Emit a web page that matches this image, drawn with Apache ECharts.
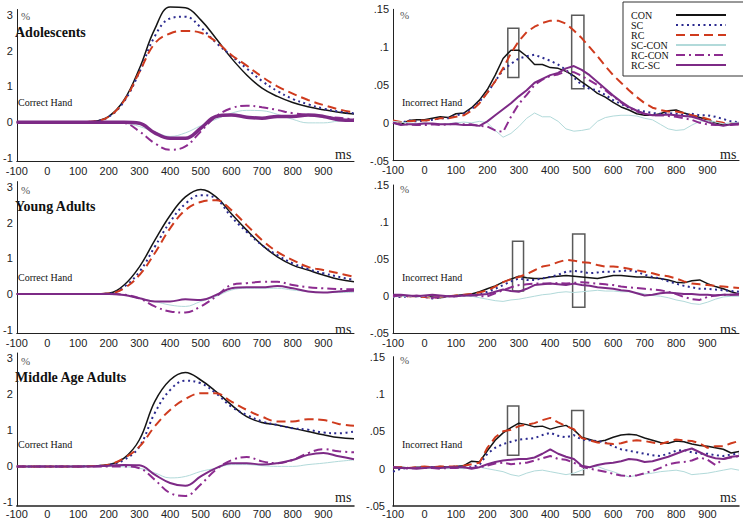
<!DOCTYPE html>
<html><head><meta charset="utf-8">
<script src="https://cdn.jsdelivr.net/npm/echarts@6/dist/echarts.min.js"></script>
<style>html,body{margin:0;padding:0;background:#fff}#c{width:743px;height:519px}</style>
</head><body><div id="c"></div>
<script>
// ---------- data ----------
const seriesNames = ['CON','SC','RC','SC-CON','RC-CON','RC-SC'];
const groupTitles = ['Adolescents','Young Adults','Middle Age Adults'];
const correctLabel = 'Correct Hand';
const incorrectLabel = 'Incorrect Hand';
const xTicks = [-100,0,100,200,300,400,500,600,700,800,900];
const yTicksCorrect = [-1,0,1,2,3];
const yTicksIncorrect = [-0.05,0,0.05,0.1,0.15];

const timesCorrect = [-100,-50,0,50,100,150,200,250,300,350,400,450,500,550,600,650,700,750,800,850,900,950,1000];
const timesIncorrect = [-100,-75,-50,-25,0,25,50,75,100,125,150,175,200,225,250,275,300,325,350,375,400,425,450,475,500,525,550,575,600,625,650,675,700,725,750,775,800,825,850,875,900,925,950,975,1000];

// Adolescents, correct hand
const adoC_CON   = [0,0,0,0,0,0.02,0.16,0.62,1.5,2.6,3.22,3.2,2.86,2.34,1.79,1.32,0.95,0.72,0.55,0.43,0.35,0.28,0.23];
const adoC_SC    = [0,0,0,0,0,0.02,0.15,0.58,1.4,2.4,2.9,2.95,2.65,2.22,1.86,1.5,1.15,0.87,0.65,0.5,0.38,0.3,0.25];
const adoC_RC    = [0,0,0,0,0,0.02,0.15,0.6,1.4,2.2,2.48,2.55,2.5,2.25,1.88,1.58,1.27,1.0,0.8,0.62,0.48,0.36,0.27];
const adoC_SCCON = [0,0,0,0,0,0,0,-0.02,-0.12,-0.27,-0.4,-0.3,-0.1,0.08,0.25,0.33,0.32,0.22,0.08,-0.02,-0.02,0.03,0.05];
const adoC_RCCON = [0,0,0,0,0,0,0,-0.02,-0.26,-0.59,-0.77,-0.68,-0.26,0.16,0.39,0.46,0.42,0.34,0.25,0.2,0.16,0.12,0.08];
const adoC_RCSC  = [0,0,0,0,0,0,0,0,-0.03,-0.3,-0.45,-0.45,-0.17,0.16,0.2,0.14,0.11,0.16,0.16,0.2,0.16,0.07,0.05];

// Young adults, correct hand
const youngC_CON   = [0,0,0,0,0,0,0.02,0.25,0.76,1.5,2.2,2.72,2.93,2.72,2.25,1.79,1.37,1.04,0.81,0.67,0.53,0.41,0.34];
const youngC_SC    = [0,0,0,0,0,0,0.01,0.2,0.62,1.32,2.02,2.53,2.77,2.67,2.16,1.74,1.37,1.09,0.86,0.7,0.58,0.48,0.39];
const youngC_RC    = [0,0,0,0,0,0,0.01,0.16,0.53,1.14,1.84,2.35,2.58,2.63,2.35,1.93,1.51,1.18,0.95,0.76,0.67,0.58,0.48];
const youngC_SCCON = [0,0,0,0,0,0,0,-0.02,-0.12,-0.21,-0.31,-0.35,-0.21,-0.07,0.11,0.16,0.16,0.16,0.11,0.07,0.04,0.04,0.05];
const youngC_RCCON = [0,0,0,0,0,0,0,-0.02,-0.12,-0.35,-0.49,-0.52,-0.35,-0.07,0.25,0.3,0.34,0.34,0.25,0.19,0.16,0.14,0.13];
const youngC_RCSC  = [0,0,0,0,0,0,0,-0.03,-0.12,-0.21,-0.21,-0.15,-0.17,-0.03,0.16,0.19,0.19,0.22,0.16,0.07,0.04,0.07,0.09];

// Middle age adults, correct hand
const midC_CON   = [0,0,0,0,0,0.01,0.05,0.23,0.74,1.8,2.4,2.61,2.4,2.08,1.71,1.38,1.22,1.15,1.06,0.97,0.88,0.8,0.77];
const midC_SC    = [0,0,0,0,0,0.01,0.04,0.18,0.55,1.48,2.12,2.38,2.31,2.03,1.66,1.43,1.25,1.15,1.06,1.02,0.94,0.92,0.97];
const midC_RC    = [0,0,0,0,0,0.01,0.05,0.23,0.55,1.11,1.57,1.87,2.03,2.03,1.8,1.57,1.38,1.25,1.25,1.31,1.29,1.18,1.13];
const midC_SCCON = [0,0,0,0,0,0,0,-0.01,-0.05,-0.18,-0.32,-0.28,-0.14,-0.05,0.05,0.05,0.02,0,0,0.05,0.09,0.14,0.18];
const midC_RCCON = [0,0,0,0,0,0,0,0,-0.05,-0.37,-0.74,-0.82,-0.5,-0.09,0.17,0.26,0.14,0.09,0.18,0.37,0.48,0.42,0.39];
const midC_RCSC  = [0,0,0,0,0,0,0.02,0.04,0.03,-0.23,-0.46,-0.54,-0.28,-0.05,0.09,0.09,0.05,0.09,0.18,0.32,0.37,0.28,0.2];

// Adolescents, incorrect hand
const adoI_CON   = [0,-0.002,0.003,0.004,0.004,0.006,0.008,0.007,0.012,0.013,0.02,0.03,0.044,0.063,0.085,0.096,0.096,0.088,0.077,0.077,0.073,0.072,0.068,0.062,0.054,0.047,0.039,0.034,0.027,0.021,0.017,0.012,0.01,0.01,0.012,0.016,0.017,0.013,0.01,0.007,0.004,0,-0.003,-0.002,-0.001];
const adoI_SC    = [0.002,0,0.003,0.002,0.003,0.004,0.006,0.006,0.01,0.012,0.018,0.028,0.04,0.055,0.07,0.078,0.085,0.088,0.09,0.086,0.082,0.077,0.07,0.06,0.05,0.045,0.043,0.037,0.03,0.025,0.02,0.017,0.015,0.013,0.012,0.013,0.012,0.01,0.012,0.01,0.01,0.008,0.005,0.002,0.001];
const adoI_RC    = [0.003,0.001,0.002,0.003,0.003,0.004,0.006,0.006,0.008,0.01,0.016,0.026,0.04,0.055,0.072,0.092,0.108,0.12,0.127,0.132,0.135,0.135,0.131,0.122,0.112,0.1,0.088,0.075,0.063,0.053,0.043,0.034,0.026,0.02,0.017,0.015,0.015,0.013,0.01,0.008,0.005,0.002,0,-0.001,-0.002];
const adoI_SCCON = [0.002,0.001,0,-0.001,0,-0.001,-0.002,-0.001,0,0.001,0,0.002,0,-0.01,-0.019,-0.014,-0.005,0.006,0.013,0.008,0.008,0.002,-0.008,-0.011,-0.01,-0.008,0.002,0.007,0.009,0.01,0.01,0.009,0.006,0.004,-0.002,-0.008,-0.01,-0.009,-0.003,0.002,0.003,0.001,-0.001,0,0.001];
const adoI_RCCON = [0,-0.002,-0.002,-0.003,-0.003,-0.002,-0.003,-0.002,-0.001,-0.002,-0.002,-0.004,-0.005,-0.01,-0.012,0.008,0.025,0.037,0.05,0.057,0.062,0.064,0.068,0.067,0.062,0.056,0.05,0.043,0.035,0.027,0.02,0.015,0.012,0.01,0.01,0.009,0.008,0.006,0.004,0,-0.002,-0.003,-0.002,-0.003,-0.002];
const adoI_RCSC  = [0,-0.003,-0.002,-0.002,-0.001,-0.001,-0.002,-0.002,-0.002,-0.003,-0.003,-0.004,0.002,0.01,0.018,0.026,0.035,0.043,0.053,0.058,0.063,0.066,0.072,0.075,0.07,0.063,0.054,0.045,0.036,0.028,0.021,0.016,0.012,0.01,0.01,0.011,0.01,0.009,0.008,0.005,0.001,-0.002,-0.004,-0.002,-0.001];

// Young adults, incorrect hand
const youngI_CON   = [0.002,0.001,0,0,0,-0.001,-0.002,0,0.001,0.002,0.003,0.006,0.01,0.014,0.019,0.023,0.027,0.025,0.024,0.024,0.026,0.027,0.028,0.027,0.026,0.025,0.024,0.026,0.028,0.028,0.027,0.026,0.026,0.025,0.024,0.022,0.019,0.018,0.021,0.022,0.017,0.013,0.01,0.006,0.003];
const youngI_SC    = [0,-0.001,0,0,-0.001,-0.003,-0.002,0,0,0.001,0.001,0.002,0.006,0.01,0.015,0.02,0.024,0.022,0.022,0.024,0.026,0.029,0.033,0.034,0.033,0.031,0.032,0.033,0.033,0.034,0.035,0.033,0.029,0.026,0.024,0.02,0.017,0.014,0.012,0.01,0.01,0.009,0.008,0.007,0.006];
const youngI_RC    = [0.001,0,0,0,-0.001,-0.002,-0.001,0,0.001,0.002,0.003,0.005,0.008,0.013,0.019,0.023,0.026,0.03,0.035,0.04,0.042,0.046,0.049,0.048,0.046,0.045,0.042,0.04,0.04,0.039,0.037,0.035,0.033,0.031,0.028,0.027,0.024,0.02,0.017,0.016,0.015,0.014,0.013,0.012,0.011];
const youngI_SCCON = [-0.001,0,0,-0.001,0,-0.002,-0.001,0,0,0,0,-0.002,-0.004,-0.006,-0.007,-0.005,-0.004,-0.002,0,0.002,0.003,0.005,0.006,0.005,0.006,0.007,0.008,0.007,0.007,0.006,0.006,0.005,0.003,0.001,0,-0.002,-0.005,-0.007,-0.01,-0.011,-0.008,-0.004,-0.001,0,0];
const youngI_RCCON = [0,0.001,0,0.001,0,-0.002,-0.001,0,0,0.001,0.002,0,0,0.004,0.008,0.012,0.015,0.016,0.017,0.017,0.017,0.018,0.017,0.018,0.019,0.018,0.017,0.016,0.015,0.013,0.012,0.011,0.01,0.009,0.008,0.006,0.003,-0.001,-0.004,-0.005,-0.001,0.001,0.002,0.002,0.003];
const youngI_RCSC  = [0.002,0.002,0.001,0,0.001,0.002,0.001,0,0,0.001,0.001,0.002,0.003,0.006,0.009,0.007,0.006,0.01,0.015,0.016,0.017,0.016,0.015,0.017,0.015,0.014,0.012,0.011,0.01,0.008,0.007,0.004,0.001,0.002,0.004,0.005,0.004,0.003,0.003,0.002,0.002,0.001,0.002,0.002,0.002];

// Middle age adults, incorrect hand
const midI_CON   = [0.001,0.002,0.001,0.002,0.002,0.002,0.003,0.002,0.003,0.004,0.01,0.009,0.024,0.038,0.048,0.055,0.061,0.059,0.056,0.057,0.053,0.056,0.058,0.052,0.042,0.039,0.036,0.038,0.042,0.045,0.046,0.045,0.041,0.038,0.035,0.034,0.037,0.036,0.033,0.031,0.03,0.028,0.026,0.021,0.023];
const midI_SC    = [-0.004,0,0.001,0.001,0.002,0.002,0.002,0.002,0.003,0.002,0.002,0.005,0.02,0.028,0.033,0.036,0.039,0.04,0.041,0.045,0.048,0.044,0.042,0.045,0.039,0.038,0.037,0.035,0.03,0.026,0.024,0.022,0.02,0.018,0.017,0.02,0.024,0.025,0.022,0.02,0.02,0.018,0.017,0.019,0.02];
const midI_RC    = [0.002,0.002,0.001,0.002,0.003,0.002,0.003,0.003,0.003,0.004,0.006,0.008,0.028,0.042,0.05,0.052,0.057,0.059,0.061,0.065,0.068,0.062,0.057,0.053,0.041,0.038,0.035,0.034,0.033,0.034,0.037,0.038,0.037,0.035,0.033,0.036,0.039,0.038,0.037,0.034,0.028,0.03,0.03,0.034,0.037];
const midI_SCCON = [0.002,0.001,0,0.001,0.001,0,0.001,0,0.001,0,0.001,0.002,0,-0.002,-0.004,-0.008,-0.01,-0.006,-0.003,-0.002,-0.004,-0.006,-0.008,-0.006,-0.002,0.002,0.003,-0.001,-0.004,-0.008,-0.011,-0.009,-0.007,-0.006,-0.004,-0.003,-0.002,-0.004,-0.008,-0.007,-0.006,-0.004,-0.002,0,-0.002];
const midI_RCCON = [0.002,0.001,0,0.001,0.001,0.001,0,0.001,0.001,0.002,0.001,0.002,0.004,0.007,0.008,0.006,0.007,0.008,0.011,0.014,0.017,0.013,0.012,0.008,0.003,0,-0.002,-0.004,-0.007,-0.009,-0.01,-0.009,-0.006,-0.003,0.001,0.006,0.008,0.009,0.011,0.015,0.012,0.005,0.013,0.015,0.017];
const midI_RCSC  = [0.002,0.001,0.001,0,0.001,0.002,0.001,0.002,0.002,0.002,0,0.002,0.006,0.009,0.011,0.012,0.013,0.013,0.015,0.02,0.026,0.02,0.016,0.013,0.004,0.002,0.005,0.007,0.008,0.01,0.013,0.012,0.009,0.01,0.013,0.016,0.02,0.024,0.027,0.022,0.017,0.014,0.013,0.016,0.017];

// highlighted time windows [x0, yTop, x1, yBottom]
const boxesAdoI   = [[265,0.125,300,0.06],[468,0.142,507,0.045]];
const boxesYoungI = [[280,0.074,315,0.007],[471,0.084,510,-0.015]];
const boxesMidI   = [[264,0.084,300,0.018],[468,0.078,506,-0.008]];

// ---------- layout / style ----------
const panels = [
  {grid:{left:11,top:9.5,width:343,height:152}, kind:'C', row:0, data:[adoC_CON,adoC_SC,adoC_RC,adoC_SCCON,adoC_RCCON,adoC_RCSC]},
  {grid:{left:393,top:9.3,width:346,height:151.4}, kind:'I', row:0, data:[adoI_CON,adoI_SC,adoI_RC,adoI_SCCON,adoI_RCCON,adoI_RCSC], boxes:boxesAdoI},
  {grid:{left:11,top:181.6,width:343,height:151.6}, kind:'C', row:1, data:[youngC_CON,youngC_SC,youngC_RC,youngC_SCCON,youngC_RCCON,youngC_RCSC]},
  {grid:{left:393,top:185,width:346,height:148.3}, kind:'I', row:1, data:[youngI_CON,youngI_SC,youngI_RC,youngI_SCCON,youngI_RCCON,youngI_RCSC], boxes:boxesYoungI},
  {grid:{left:11,top:353,width:343,height:153}, kind:'C', row:2, data:[midC_CON,midC_SC,midC_RC,midC_SCCON,midC_RCCON,midC_RCSC]},
  {grid:{left:393,top:356.7,width:346,height:149.3}, kind:'I', row:2, data:[midI_CON,midI_SC,midI_RC,midI_SCCON,midI_RCCON,midI_RCSC], boxes:boxesMidI}
];

const lineStyles = {
  'CON':    {color:'#141414', width:1.5, type:'solid'},
  'SC':     {color:'#2b2a8f', width:2, type:[2,3.5]},
  'RC':     {color:'#cf3b1e', width:2, type:[9,5]},
  'SC-CON': {color:'#b2dada', width:1, type:'solid'},
  'RC-CON': {color:'#8d2c90', width:2, type:[9,4,2,4]},
  'RC-SC':  {color:'#7d2a86', width:2, type:'solid'}
};

const tickFont = {fontFamily:'"Liberation Sans", Arial, sans-serif', fontSize:11, color:'#222'};
const serif = '"Liberation Serif", "Times New Roman", serif';

function fmtInc(v){
  if (Math.abs(v) < 1e-9) return '0';
  return String(+v.toFixed(2)).replace('0.', '.');
}

const grids = [], xAxes = [], yAxes = [], series = [];
panels.forEach((p, i) => {
  grids.push(p.grid);
  xAxes.push({
    type:'value', gridIndex:i, min:-100, max:1000,
    axisLine:{show:true, onZero:false, lineStyle:{color:'#222', width:p.row===2?1.5:1}},
    axisTick:{show:false}, splitLine:{show:false},
    axisLabel:Object.assign({customValues:xTicks, margin:p.row===2?2:4}, tickFont)
  });
  const isC = p.kind === 'C';
  yAxes.push({
    type:'value', gridIndex:i,
    min: isC ? -1.1 : -0.05, max: isC ? 3.15 : 0.15,
    axisLine:{show:true, onZero:false, lineStyle:{color:'#222', width:1}},
    axisTick:{show:false}, splitLine:{show:false},
    axisLabel:Object.assign({customValues: isC ? yTicksCorrect : yTicksIncorrect,
      margin: (!isC && p.row===2) ? 8 : 4,
      formatter: isC ? (v => String(v)) : fmtInc}, tickFont)
  });
  const times = isC ? timesCorrect : timesIncorrect;
  seriesNames.forEach((name, k) => {
    const ls = Object.assign({}, lineStyles[name]);
    if (name === 'RC-SC' && i === 0) ls.width = 3.5;
    const s = {
      type:'line', name, xAxisIndex:i, yAxisIndex:i,
      data: times.map((t, j) => [t, p.data[k][j]]),
      symbol:'none', showSymbol:false, smooth: isC ? 0.4 : false, clip:false,
      lineStyle: ls, itemStyle:{color:ls.color}, silent:true, z: 2 + k*0.01
    };
    if (k === 0 && p.boxes) {
      s.markArea = {
        silent:true, label:{show:false},
        itemStyle:{color:'rgba(0,0,0,0)', borderColor:'#5a5a5a', borderWidth:1.5},
        data: p.boxes.map(b => [{coord:[b[0], b[1]]}, {coord:[b[2], b[3]]}])
      };
    }
    series.push(s);
  });
});

// annotation texts
const rowY = [
  {pct:16, title:32, hand:102, ms:154},
  {pct:190, title:206, hand:277, ms:329},
  {pct:361, title:377, hand:444, ms:497}
];
const graphics = [];
rowY.forEach((r, i) => {
  graphics.push({type:'text', x:21, y:r.pct, style:{text:'%', font:'11px '+serif, fill:'#555', verticalAlign:'middle'}});
  graphics.push({type:'text', x:400, y:r.pct - 1, style:{text:'%', font:'11px '+serif, fill:'#555', verticalAlign:'middle'}});
  graphics.push({type:'text', x:15, y:r.title, style:{text:groupTitles[i], font:'bold 14px '+serif, fill:'#111', verticalAlign:'middle'}});
  graphics.push({type:'text', x:18, y:r.hand, style:{text:correctLabel, font:'10px '+serif, fill:'#111', verticalAlign:'middle'}});
  graphics.push({type:'text', x:402, y:r.hand, style:{text:incorrectLabel, font:'10px '+serif, fill:'#111', verticalAlign:'middle'}});
  graphics.push({type:'text', x:335, y:r.ms, style:{text:'ms', font:'14px '+serif, fill:'#222', verticalAlign:'middle'}});
  graphics.push({type:'text', x:720, y:r.ms, style:{text:'ms', font:'14px '+serif, fill:'#222', verticalAlign:'middle'}});
});

const option = {
  animation:false,
  backgroundColor:'#fff',
  grid: grids, xAxis: xAxes, yAxis: yAxes, series,
  legend: {
    data: seriesNames, orient:'vertical', align:'right',
    left:623, top:2, padding:[8,17,6,8],
    itemWidth:50, itemHeight:10, itemGap:0,
    borderColor:'#333', borderWidth:1, backgroundColor:'#fff',
    selectedMode:false,
    itemStyle:{opacity:0},
    formatter: n => '{a|' + n + '}',
    textStyle:{fontFamily:serif, fontSize:10, color:'#111', lineHeight:10,
      rich:{a:{width:40, align:'left', fontFamily:serif, fontSize:10, lineHeight:10, color:'#111'}}}
  },
  graphic: graphics
};

const chart = echarts.init(document.getElementById('c'), null, {renderer:'svg'});
chart.setOption(option);
</script>
</body></html>
